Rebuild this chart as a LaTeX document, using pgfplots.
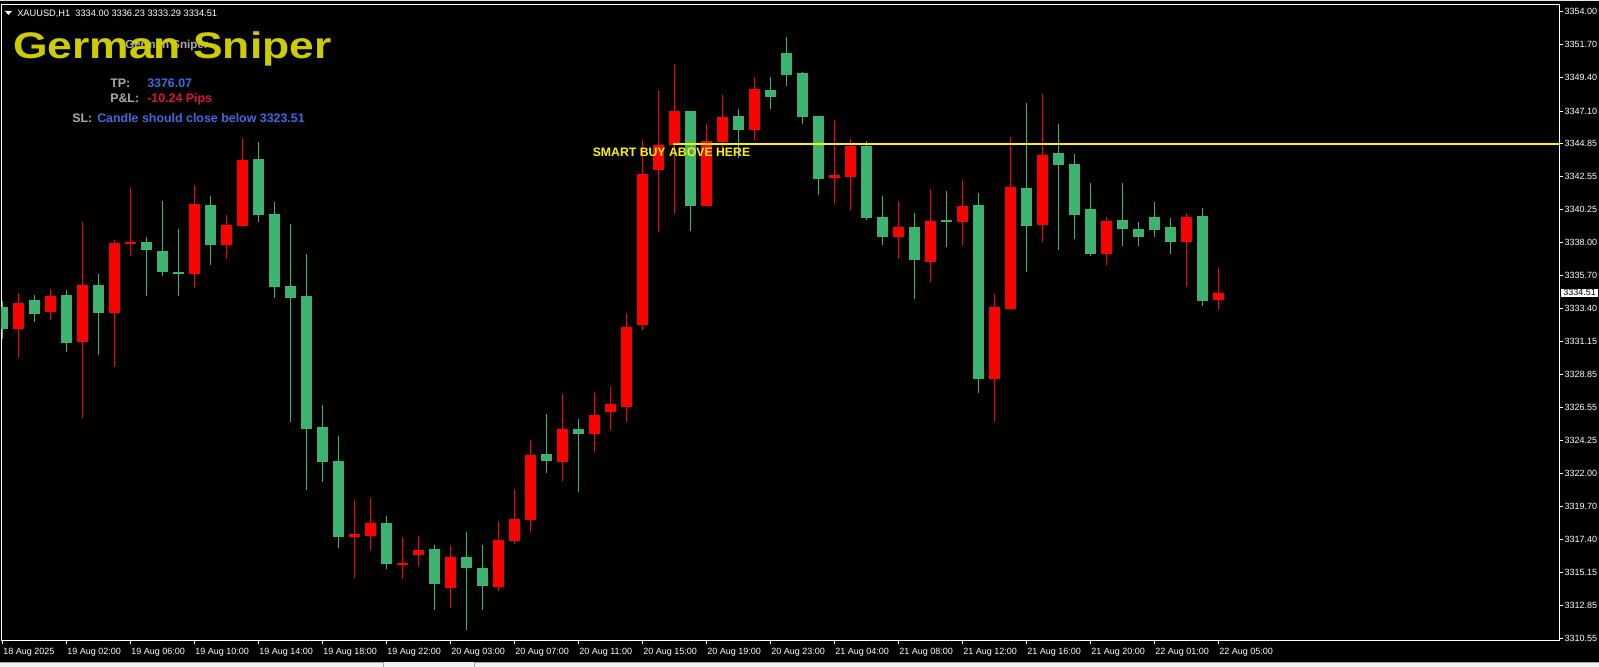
\documentclass[border=0pt]{standalone}
\usepackage{fontspec}
\setmainfont{Liberation Sans}
\usepackage{graphicx}
\usepackage{pgfplots}
\usepackage{pgfplotstable}
\pgfplotsset{compat=1.18}
\definecolor{bull}{RGB}{255,0,0}
\definecolor{bear}{RGB}{60,179,113}
\definecolor{gsyellow}{RGB}{204,204,0}
\definecolor{royal}{RGB}{65,105,225}
\definecolor{crimsonc}{RGB}{220,20,60}
\definecolor{lbl}{RGB}{170,170,170}

% bullish candles (drawn red): index open high low close
\pgfplotstableread{
i o h l c
1 3331.99 3334.49 3330.05 3333.79
3 3333.19 3334.76 3332.63 3334.28
5 3331.11 3339.41 3325.84 3335.04
7 3333.12 3338.16 3329.38 3337.95
8 3337.90 3341.76 3337.07 3338.00
12 3335.82 3341.97 3334.85 3340.65
14 3337.81 3339.89 3336.86 3339.20
15 3339.15 3345.14 3339.08 3343.70
22 3317.58 3320.14 3314.76 3317.78
23 3317.67 3320.28 3316.67 3318.55
25 3315.64 3317.58 3314.67 3315.77
26 3316.33 3317.65 3315.57 3316.67
28 3314.04 3317.02 3312.66 3316.19
31 3314.11 3318.68 3313.83 3317.37
32 3317.30 3320.90 3317.09 3318.82
33 3318.75 3324.30 3317.92 3323.26
35 3322.77 3327.49 3321.46 3325.06
37 3324.71 3327.62 3323.47 3326.03
38 3326.26 3327.97 3324.99 3326.79
39 3326.58 3333.10 3325.55 3332.13
40 3332.27 3345.09 3331.92 3342.73
41 3343.01 3348.48 3338.71 3344.74
42 3344.74 3350.35 3339.98 3347.10
44 3340.51 3346.20 3340.51 3345.02
45 3344.95 3348.21 3344.39 3346.68
47 3345.78 3349.45 3345.09 3348.62
52 3342.48 3346.47 3340.67 3342.66
53 3342.52 3345.16 3340.24 3344.67
56 3338.37 3340.86 3336.84 3339.06
58 3336.63 3341.69 3335.25 3339.47
60 3339.41 3342.32 3337.81 3340.51
62 3328.53 3334.42 3325.61 3333.52
63 3333.38 3345.30 3333.31 3341.83
65 3339.20 3348.28 3338.02 3344.05
69 3337.19 3339.75 3336.43 3339.47
74 3338.02 3340.03 3334.90 3339.75
76 3334.00 3336.23 3333.29 3334.51
}\redtab

% bearish candles (drawn green)
\pgfplotstableread{
i o h l c
0 3333.52 3333.93 3331.28 3331.99
2 3334.00 3334.35 3332.50 3333.05
4 3334.35 3334.69 3330.42 3331.04
6 3335.04 3335.80 3330.21 3333.12
9 3338.02 3338.37 3334.30 3337.49
10 3337.40 3340.86 3335.68 3335.96
11 3335.94 3338.92 3334.30 3335.82
13 3340.58 3341.21 3336.45 3337.83
16 3343.77 3344.95 3339.43 3339.89
17 3339.96 3340.79 3334.16 3334.92
18 3334.97 3339.25 3325.57 3334.16
19 3334.28 3337.19 3320.83 3325.06
20 3325.20 3326.72 3321.41 3322.77
21 3322.84 3324.58 3316.83 3317.58
24 3318.55 3319.03 3315.38 3315.70
27 3316.74 3317.02 3312.52 3314.32
29 3316.19 3317.92 3311.13 3315.43
30 3315.43 3317.02 3312.52 3314.18
34 3323.33 3326.10 3322.01 3322.84
36 3325.06 3325.75 3320.69 3324.71
43 3347.10 3347.10 3338.78 3340.51
46 3346.75 3347.24 3343.84 3345.78
48 3348.55 3349.45 3347.24 3348.07
49 3351.12 3352.23 3348.83 3349.59
50 3349.73 3349.80 3346.20 3346.68
51 3346.75 3346.75 3341.28 3342.39
54 3344.67 3345.02 3339.54 3339.68
55 3339.75 3341.21 3337.81 3338.37
57 3339.06 3340.03 3334.07 3336.77
59 3339.54 3341.55 3337.67 3339.43
61 3340.58 3341.42 3327.56 3328.53
64 3341.76 3347.65 3335.94 3339.13
66 3344.19 3346.20 3337.46 3343.36
67 3343.42 3344.12 3338.23 3339.89
68 3340.31 3342.11 3337.05 3337.19
70 3339.54 3342.11 3337.74 3338.92
71 3338.92 3339.41 3337.74 3338.37
72 3339.75 3340.79 3338.37 3338.85
73 3339.06 3339.68 3337.19 3338.02
75 3339.82 3340.38 3333.58 3333.93
}\greentab

\begin{document}
\begin{tikzpicture}
\fill[black] (0,0) rectangle (1199.25pt,-500.25pt);
\begin{axis}[
  at={(0.75pt,-3.75pt)}, anchor=north west,
  scale only axis, width=1169.25pt, height=476.78pt,
  xmin=-0.08, xmax=97.36, ymin=3310.39, ymax=3354.45,
  axis background/.style={fill=black},
  axis line style={white, line width=0.75pt},
  tick align=outside, major tick length=2.25pt,
  every tick/.style={white, line width=0.75pt},
  xtick pos=left, ytick pos=right,
  xticklabel pos=left, yticklabel pos=right,
  tick label style={font=\fontsize{6.75}{8}\selectfont, text=white},
  xtick={0,4,...,76},
  xticklabels={18 Aug 2025,19 Aug 02:00,19 Aug 06:00,19 Aug 10:00,19 Aug 14:00,19 Aug 18:00,19 Aug 22:00,20 Aug 03:00,20 Aug 07:00,20 Aug 11:00,20 Aug 15:00,20 Aug 19:00,20 Aug 23:00,21 Aug 04:00,21 Aug 08:00,21 Aug 12:00,21 Aug 16:00,21 Aug 20:00,22 Aug 01:00,22 Aug 05:00},
  xticklabel style={anchor=north west, inner xsep=0.6pt},
  ytick={3354.00,3351.70,3349.40,3347.10,3344.85,3342.55,3340.25,3338.00,3335.70,3333.40,3331.15,3328.85,3326.55,3324.25,3322.00,3319.70,3317.40,3315.15,3312.85,3310.55},
  yticklabels={3354.00,3351.70,3349.40,3347.10,3344.85,3342.55,3340.25,3338.00,3335.70,3333.40,3331.15,3328.85,3326.55,3324.25,3322.00,3319.70,3317.40,3315.15,3312.85,3310.55},
  yticklabel style={anchor=west, inner xsep=1pt},
]
% wicks (low to high)
\addplot[draw=bull, line width=0.75pt, mark=none, quiver={u=0, v=\thisrow{h}-\thisrow{l}}]
  table[x=i, y=l] {\redtab};
\addplot[draw=bear, line width=0.75pt, mark=none, quiver={u=0, v=\thisrow{h}-\thisrow{l}}]
  table[x=i, y=l] {\greentab};
% bodies (open to close)
\addplot[draw=bull, line width=8.25pt, line cap=butt, mark=none, quiver={u=0, v=\thisrow{c}-\thisrow{o}}]
  table[x=i, y=o] {\redtab};
\addplot[draw=bear, line width=8.25pt, line cap=butt, mark=none, quiver={u=0, v=\thisrow{o}-\thisrow{c}}]
  table[x=i, y=c] {\greentab};
% smart buy level
\addplot[draw=yellow, line width=1.7pt] coordinates {(41.92,3344.81) (97.5,3344.81)};
\end{axis}
\begin{scope}[x=0.75pt,y=-0.75pt]
  \fill[gray!20] (0,0) rectangle (1599,1.3);
  \fill[white] (5,11) -- (12,11) -- (8.5,15) -- cycle;
  \node[anchor=base west, inner sep=0, text=white, font=\fontsize{6.95}{8}\selectfont] at (17,16.7) {XAUUSD,H1\ \ 3334.00 3336.23 3333.29 3334.51};
  \node[anchor=base west, inner sep=0, text=lbl, font=\bfseries\fontsize{8.7}{10}\selectfont] at (125,49) {German Sniper};
  \node[anchor=base west, inner sep=0, text=gsyellow, font=\bfseries\fontsize{27.75}{30}\selectfont] at (13,58.3) {\scalebox{1.2}[1]{German Sniper}};
  \node[anchor=base west, inner sep=0, text=lbl, font=\bfseries\fontsize{9.3}{11}\selectfont] at (110,87.3) {TP:};
  \node[anchor=base west, inner sep=0, text=royal, font=\bfseries\fontsize{9.3}{11}\selectfont] at (147,87.3) {3376.07};
  \node[anchor=base west, inner sep=0, text=lbl, font=\bfseries\fontsize{9.3}{11}\selectfont] at (110,102.3) {P\&L:};
  \node[anchor=base west, inner sep=0, text=crimsonc, font=\bfseries\fontsize{9.3}{11}\selectfont] at (147,102.3) {-10.24 Pips};
  \node[anchor=base west, inner sep=0, text=lbl, font=\bfseries\fontsize{9.3}{11}\selectfont] at (72,122.7) {SL:};
  \node[anchor=base west, inner sep=0, text=royal, font=\bfseries\fontsize{9.3}{11}\selectfont] at (97,122.7) {Candle should close below 3323.51};
  \node[anchor=base west, inner sep=0, text=yellow, font=\bfseries\fontsize{9.2}{11}\selectfont] at (592.5,156) {SMART BUY ABOVE HERE};
  \node[anchor=west, fill=white, text=black, inner xsep=1.5pt, inner ysep=0.6pt, font=\fontsize{6.75}{8}\selectfont] at (1561,292.7) {3334.51};
  % bottom tab strip
  \fill[gray!10] (0,662) rectangle (1599,667);
  \draw[gray!70, line width=0.75pt] (0,662.5) -- (383,662.5) -- (383,667);
  \draw[gray!70, line width=0.75pt] (474,667) -- (474,662.5) -- (1599,662.5);
\end{scope}
\pgfresetboundingbox
\path[use as bounding box] (0,0) rectangle (1199.25pt,-500.25pt);
\end{tikzpicture}
\end{document}
